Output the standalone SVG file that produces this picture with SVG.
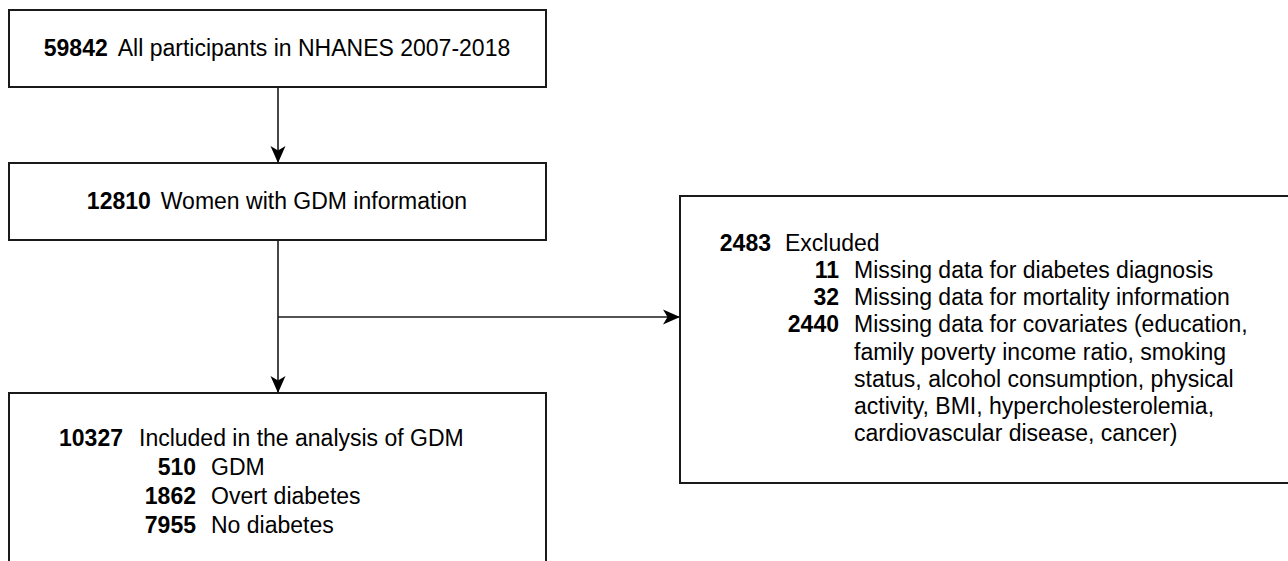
<svg xmlns="http://www.w3.org/2000/svg" width="1288" height="561" viewBox="0 0 1288 561">
<defs>
<style>
.box{fill:#fff;stroke:#1a1a1a;stroke-width:2}
.t{font-family:"Liberation Sans",Arial,Helvetica,sans-serif;font-size:23px;fill:#000}
.b{font-weight:bold}
.e{text-anchor:end}
.m{text-anchor:middle}
.c{fill:none;stroke:#1a1a1a;stroke-width:1.6}
</style>
<marker id="arr" markerUnits="userSpaceOnUse" markerWidth="18" markerHeight="18" viewBox="0 0 18 18" refX="17" refY="9" orient="auto">
<path d="M0,1.5 L17,9 L0,16.5 L4.5,9 Z" fill="#000"/>
</marker>
</defs>
<rect width="1288" height="561" fill="#fff"/>
<g id="connectors">
<path class="c" d="M278,87 V163" marker-end="url(#arr)"/>
<path class="c" d="M278,240 V393" marker-end="url(#arr)"/>
<path class="c" d="M278,317 H680" marker-end="url(#arr)"/>
</g>
<g id="n1">
<rect class="box" x="9" y="10" width="537" height="77"/>
<text class="t m" x="277" y="56"><tspan class="b">59842</tspan><tspan dx="10">All participants in NHANES 2007-2018</tspan></text>
</g>
<g id="n2">
<rect class="box" x="9" y="163" width="537" height="77"/>
<text class="t m" x="277" y="209"><tspan class="b">12810</tspan><tspan dx="10">Women with GDM information</tspan></text>
</g>
<g id="n3">
<rect class="box" x="9" y="393" width="537" height="200"/>
<text class="t b e" x="123" y="446">10327</text>
<text class="t" x="139" y="446">Included in the analysis of GDM</text>
<text class="t b e" x="196" y="475">510</text>
<text class="t" x="211" y="475">GDM</text>
<text class="t b e" x="196" y="504">1862</text>
<text class="t" x="211" y="504">Overt diabetes</text>
<text class="t b e" x="196" y="533">7955</text>
<text class="t" x="211" y="533">No diabetes</text>
</g>
<g id="n4">
<rect class="box" x="680" y="196" width="640" height="287"/>
<text class="t b e" x="771" y="251">2483</text>
<text class="t" x="785" y="251">Excluded</text>
<text class="t b e" x="839" y="278">11</text>
<text class="t" x="854" y="278">Missing data for diabetes diagnosis</text>
<text class="t b e" x="839" y="305">32</text>
<text class="t" x="854" y="305">Missing data for mortality information</text>
<text class="t b e" x="839" y="332">2440</text>
<text class="t" x="854" y="332">Missing data for covariates (education,</text>
<text class="t" x="854" y="360">family poverty income ratio, smoking</text>
<text class="t" x="854" y="387">status, alcohol consumption, physical</text>
<text class="t" x="854" y="414">activity, BMI, hypercholesterolemia,</text>
<text class="t" x="854" y="441">cardiovascular disease, cancer)</text>
</g>
</svg>
